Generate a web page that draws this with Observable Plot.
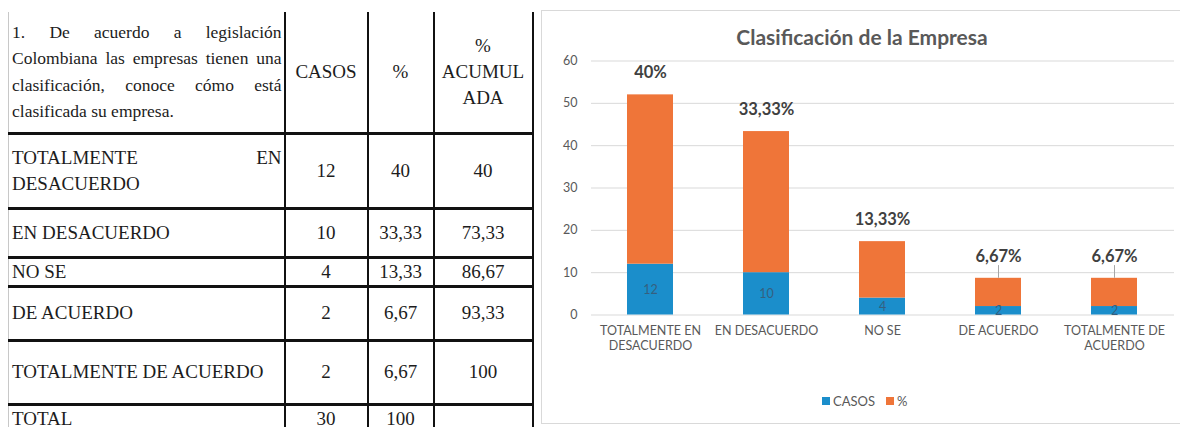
<!DOCTYPE html>
<html><head><meta charset="utf-8">
<script src="https://cdn.jsdelivr.net/npm/d3@7"></script>
<script src="https://cdn.jsdelivr.net/npm/@observablehq/plot@0.6"></script>
<style>
html,body{margin:0;padding:0;background:#fff;width:1180px;height:427px;overflow:hidden;position:relative}
#tbl{position:absolute;left:8px;top:12px;border-collapse:collapse;table-layout:fixed;font-family:"Liberation Serif","Times New Roman",serif;font-size:19px;color:#1c1c1c}
#tbl td{border-left:2px solid #111;border-right:2px solid #111;border-bottom:3px solid #111;padding:0 3px;vertical-align:middle;text-align:center;line-height:26px;overflow:hidden}
#tbl td.q{text-align:justify;border-left:1px solid #c8c8c8;padding:0 2px 0 3px}
#tbl td.hq{font-size:17.5px;line-height:26.5px}
#tbl td.pre{white-space:pre-line}
#chart{position:absolute;left:541px;top:10px;width:660px;height:412px;border:1px solid #d9d9d9}
#title{position:absolute;left:0;width:640px;top:13px;text-align:center;font-family:Lato,sans-serif;font-weight:bold;font-size:21px;color:#595959}
#plot{position:absolute;left:0;top:40px}
#legend{position:absolute;left:280px;top:382px;font-family:Lato,sans-serif;font-size:13px;color:#595959;display:flex;align-items:center}
#legend span.sw{display:inline-block;width:8px;height:8px;margin-right:3px}
#legend span.lb{margin-right:11px}
</style></head>
<body>
<table id="tbl"><colgroup><col style="width:276px"><col style="width:83px"><col style="width:66px"><col style="width:99px"></colgroup><tbody></tbody></table>
<div id="chart"><div id="title"></div><div id="plot"></div><div id="legend"></div></div>
<script>
const question = "1. De acuerdo a legislación Colombiana las empresas tienen una clasificación, conoce cómo está clasificada su empresa.";
const tableHeaders = ["CASOS", "%", "%\nACUMUL\nADA"];
const categories = ["TOTALMENTE EN DESACUERDO", "EN DESACUERDO", "NO SE", "DE ACUERDO", "TOTALMENTE DE ACUERDO"];
const axisLabels = ["TOTALMENTE EN\nDESACUERDO", "EN DESACUERDO", "NO SE", "DE ACUERDO", "TOTALMENTE DE\nACUERDO"];
const casos = [12, 10, 4, 2, 2];
const pct = [40, 33.33, 13.33, 6.67, 6.67];
const acumulada = [40, 73.33, 86.67, 93.33, 100];
const totalLabel = "TOTAL";
const totalCasos = 30;
const totalPct = 100;
const seriesNames = ["CASOS", "%"];
const seriesColors = ["#1b8ecb", "#ef7539"];
const yTicks = [0, 10, 20, 30, 40, 50, 60];
const chartTitle = "Clasificación de la Empresa";

const fmt = v => String(v).replace(".", ",");

// table
const rowHeights = [121, 75, 49, 27, 54, 64, 28];
const tb = document.querySelector("#tbl tbody");
function addRow(cells, h, first) {
  const tr = document.createElement("tr");
  tr.style.height = h + "px";
  cells.forEach((c, j) => {
    const td = document.createElement("td");
    td.textContent = c;
    if (j === 0) td.className = "q" + (first ? " hq" : "");
    else if (first) td.className = "pre";
    tr.appendChild(td);
  });
  tb.appendChild(tr);
}
addRow([question, ...tableHeaders], rowHeights[0], true);
categories.forEach((c, i) => addRow([c, String(casos[i]), fmt(pct[i]), fmt(acumulada[i])], rowHeights[i + 1], false));
addRow([totalLabel, String(totalCasos), String(totalPct), ""], rowHeights[6], false);

// chart
document.getElementById("title").textContent = chartTitle;
const rows = categories.flatMap((c, i) => [
  {cat: c, serie: seriesNames[0], value: casos[i]},
  {cat: c, serie: seriesNames[1], value: pct[i]}
]);
const tops = categories.map((c, i) => ({cat: c, casos: casos[i], pct: pct[i], total: casos[i] + pct[i]}));

const chart = Plot.plot({
  width: 638, height: 320,
  marginTop: 9.5, marginBottom: 56.5, marginLeft: 49, marginRight: 6,
  style: {fontFamily: "Lato, sans-serif", fontSize: "12px", color: "#595959", background: "transparent"},
  x: {domain: categories, paddingInner: 0.6, paddingOuter: 0.3, label: null},
  y: {domain: [0, 60], label: null},
  color: {domain: seriesNames, range: seriesColors},
  marks: [
    Plot.gridY(yTicks, {stroke: "#d9d9d9", strokeOpacity: 1}),
    Plot.axisY(yTicks, {tickSize: 0, tickPadding: 14, label: null, fill: "#595959", fontSize: 12.5}),
    Plot.axisX({tickSize: 0, tickPadding: 9, label: null, lineHeight: 1.2, fill: "#595959", fontSize: 12.5,
      tickFormat: d => axisLabels[categories.indexOf(d)]}),
    Plot.barY(rows, {x: "cat", y: "value", fill: "serie"}),
    Plot.text(tops, {x: "cat", y: d => d.casos / 2, text: d => String(d.casos), fill: "#35607f", fontSize: 12.5}),
    Plot.ruleX(tops.filter(d => d.pct < 10), {x: "cat", y1: "total", y2: d => d.total + 3, stroke: "#a6a6a6"}),
    Plot.text(tops, {x: "cat", y: "total", dy: -22, text: d => fmt(d.pct) + "%", fontWeight: "bold", fontSize: 16.5, fill: "#404040"})
  ]
});
document.getElementById("plot").appendChild(chart);

const lg = document.getElementById("legend");
seriesNames.forEach((s, i) => {
  const sw = document.createElement("span"); sw.className = "sw"; sw.style.background = seriesColors[i];
  const lb = document.createElement("span"); lb.className = "lb"; lb.textContent = s;
  lg.appendChild(sw); lg.appendChild(lb);
});
</script>
</body></html>
